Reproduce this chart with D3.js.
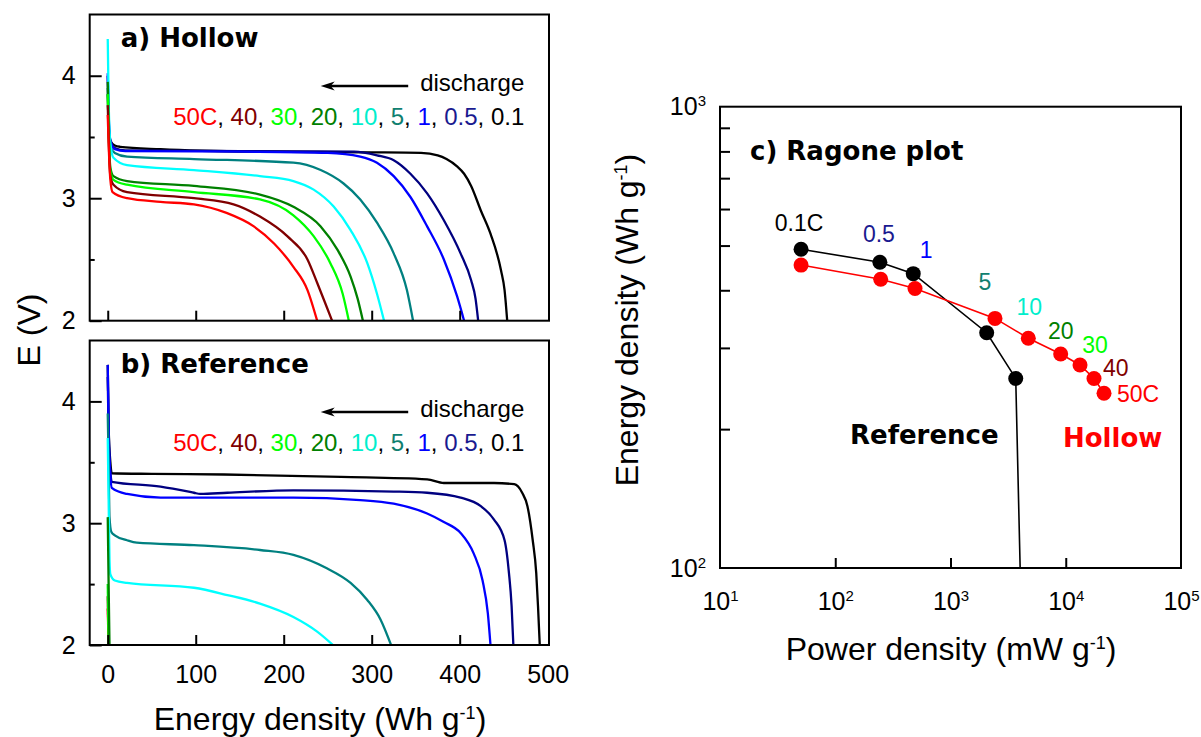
<!DOCTYPE html>
<html>
<head>
<meta charset="utf-8">
<script src="https://cdnjs.cloudflare.com/ajax/libs/d3/7.8.5/d3.min.js"></script>
<style>
  body { margin: 0; background: #ffffff; }
  text { font-family: "Liberation Sans", Arial, sans-serif; white-space: pre; }
  .bold { font-family: "DejaVu Sans", sans-serif; font-weight: bold; }
</style>
</head>
<body>
<div id="chart"></div>
<script>
////////////////////////////////////////////////////////////////////////////////
//////////////////////////////////////////////////////////////////////// Data
////////////////////////////////////////////////////////////////////////////////

// C-rates, in the order of the label row (fast -> slow)
const rateLabels = ["50C", "40", "30", "20", "10", "5", "1", "0.5", "0.1"];
const rateColors = ["#ff0000", "#800000", "#00ff00", "#008000", "#00ffff", "#008080", "#0000ff", "#000080", "#000000"];
const rateTextColors = ["#ff0000", "#800000", "#00ff00", "#008000", "#00eecc", "#108070", "#0000ff", "#1a1a90", "#000000"];

// a) Hollow discharge curves, [energy density (Wh/g), E (V)]
const hollow50 = [[0,3.68],[1,3.45],[3,3.15],[5.5,3.05],[22,3.00],[60,2.97],[98,2.95],[135,2.88],[166,2.77],[189,2.63],[211,2.44],[227,2.25],[238,2.0]];
const hollow40 = [[0,3.76],[1,3.5],[3,3.18],[6.5,3.11],[22,3.05],[98,3.00],[143,2.95],[173,2.85],[204,2.69],[227,2.50],[238,2.31],[249,2.11],[255,2.0]];
const hollow30 = [[0,3.85],[1,3.55],[3,3.22],[6.5,3.15],[22,3.11],[98,3.05],[173,2.99],[211,2.86],[234,2.69],[253,2.47],[267,2.22],[274,2.0]];
const hollow20 = [[0,3.95],[1,3.6],[3,3.25],[6.5,3.18],[22,3.14],[98,3.10],[173,3.03],[211,2.93],[242,2.77],[261,2.58],[276,2.36],[284,2.18],[290,2.0]];
const hollow10 = [[0,4.3],[1,3.8],[3,3.45],[6.5,3.33],[22,3.27],[98,3.23],[173,3.18],[211,3.14],[234,3.07],[257,2.93],[276,2.74],[295,2.47],[306,2.22],[314,2.0]];
const hollow5 = [[0,3.9],[1,3.6],[3,3.42],[8,3.37],[22,3.34],[98,3.32],[211,3.29],[242,3.23],[268,3.12],[287,2.99],[306,2.80],[325,2.55],[340,2.25],[347,2.0]];
const hollow1 = [[0,4.02],[1,3.7],[3,3.47],[8,3.40],[20,3.385],[150,3.38],[250,3.37],[287,3.34],[306,3.29],[325,3.18],[344,3.01],[363,2.77],[382,2.50],[397,2.20],[405,2.0]];
const hollow05 = [[0,4.0],[1,3.65],[3,3.47],[8,3.41],[20,3.39],[150,3.385],[280,3.38],[306,3.35],[325,3.31],[344,3.20],[363,3.04],[382,2.82],[401,2.55],[413,2.33],[418,2.18],[421,2.0]];
const hollow01 = [[0,3.85],[1,3.6],[3,3.47],[8,3.43],[14,3.42],[60,3.40],[173,3.38],[300,3.375],[356,3.37],[375,3.35],[385,3.32],[397,3.26],[405,3.2],[413,3.10],[424,2.90],[435,2.71],[447,2.41],[451,2.25],[454,2.0]];

// b) Reference discharge curves
const ref50 = [[0,2.3],[1,2.0]];
const ref40 = [[0,2.4],[1,2.0]];
const ref30 = [[0,2.5],[1,2.0]];
const ref20 = [[0,3.05],[1,2.5],[2,2.0]];
const ref10 = [[0,3.7],[1,3.2],[2,2.7],[3,2.58],[8,2.53],[22,2.51],[98,2.47],[136,2.41],[173,2.34],[211,2.23],[238,2.11],[256,2.0]];
const ref5 = [[0,3.9],[1,3.5],[2,3.05],[4,2.93],[8,2.90],[22,2.86],[33,2.84],[98,2.82],[173,2.78],[211,2.74],[249,2.63],[276,2.51],[295,2.37],[310,2.21],[322,2.0]];
const ref1 = [[0,4.3],[1,3.8],[3,3.4],[4.6,3.29],[22,3.24],[60,3.21],[211,3.21],[287,3.19],[325,3.16],[363,3.08],[382,3.01],[401,2.92],[416,2.75],[426,2.53],[432,2.26],[435,2.0]];
const ref05 = [[0,4.2],[1,3.7],[3,3.42],[4.6,3.34],[60,3.30],[98,3.25],[105,3.24],[136,3.25],[211,3.27],[325,3.26],[363,3.25],[401,3.21],[424,3.14],[439,3.03],[451,2.86],[456,2.59],[459,2.32],[461,2.0]];
const ref01 = [[0,4.3],[1,3.8],[3,3.5],[4.6,3.41],[50,3.405],[132,3.40],[265,3.38],[363,3.36],[382,3.33],[439,3.33],[462,3.32],[471,3.25],[477,3.14],[483,2.86],[487,2.59],[489,2.32],[491,2.0]];

const hollowCurves = [hollow50, hollow40, hollow30, hollow20, hollow10, hollow5, hollow1, hollow05, hollow01];
const refCurves = [ref50, ref40, ref30, ref20, ref10, ref5, ref1, ref05, ref01];

// axis ticks
const energyTicks = [0, 100, 200, 300, 400, 500];
const voltTicks = [2, 3, 4];
const voltMinorTicks = [2.5, 3.5];
const powerTicks = [10, 100, 1000, 10000, 100000];
const ragoneEnergyTicks = [100, 1000];
const ragoneMinorTicks = [200, 300, 400, 500, 600, 700, 800, 900];

// c) Ragone plot (mW/g, Wh/g)
const ragoneLabels = ["0.1C", "0.5", "1", "5", "10", "20", "30", "40", "50C"];
const ragoneLabelColors = ["#000000", "#1a1a90", "#0000ff", "#108070", "#00eecc", "#008000", "#00ff00", "#800000", "#ff0000"];
const hollowPower = [50.5, 248, 492, 2432, 4732, 9036, 13300, 17580, 21480];
const hollowEnergy = [453.6, 422.7, 403.6, 347.6, 314.8, 291, 275.5, 257.6, 239.3];
const refPower = [50.5, 244, 475, 2061, 3681, 4500];
const refEnergy = [491, 460, 434.6, 323.6, 257.6, 30];

////////////////////////////////////////////////////////////////////////////////
///////////////////////////////////////////////////////////////////// Drawing
////////////////////////////////////////////////////////////////////////////////

const svg = d3.select("#chart")
              .append("svg")
                .attr("width", 1201)
                .attr("height", 737);

// shared energy axis for a) and b)
const xEnergy = d3.scaleLinear().domain([-20.5, 501.5]).range([89.7, 549]);
const yHollow = d3.scaleLinear().domain([2, 4.5]).range([320.7, 14.5]);
const yRef = d3.scaleLinear().domain([2, 4.5]).range([645, 340.5]);

function styleAxis(g) {
  g.select(".domain").remove();
  g.selectAll(".tick line").attr("stroke", "#000").attr("stroke-width", 2);
  g.selectAll(".tick text").attr("fill", "#000").style("font-size", "25px")
   .style("font-family", "'Liberation Sans', Arial, sans-serif");
}

function drawVoltagePanel(id, yScale, curves, order, title, showEnergyLabels) {
  const x0 = xEnergy.range()[0], x1 = xEnergy.range()[1];
  const y0 = yScale.range()[0], y1 = yScale.range()[1];
  const panel = svg.append("g").attr("class", "panel-" + id);

  panel.append("clipPath").attr("id", "clip-" + id)
    .append("rect").attr("x", x0).attr("y", y1).attr("width", x1 - x0).attr("height", y0 - y1);

  const line = d3.line()
                 .x(d => xEnergy(d[0]))
                 .y(d => yScale(d[1]))
                 .curve(d3.curveMonotoneX);

  panel.append("g").attr("clip-path", `url(#clip-${id})`)
    .selectAll("path")
    .data(order)
    .join("path")
      .attr("fill", "none")
      .attr("stroke", i => rateColors[i])
      .attr("stroke-width", 2.3)
      .attr("stroke-linejoin", "round")
      .attr("d", i => line(curves[i]));

  // bottom ticks (inward)
  panel.append("g")
    .attr("transform", `translate(0,${y0})`)
    .call(d3.axisBottom(xEnergy).tickValues(energyTicks.slice(0, 5)).tickSize(-10).tickFormat(""))
    .call(styleAxis);

  if (showEnergyLabels) {
    panel.append("g")
      .attr("transform", `translate(0,${y0})`)
      .call(d3.axisBottom(xEnergy).tickValues(energyTicks).tickSize(0).tickPadding(20))
      .call(styleAxis);
  }

  // left ticks
  panel.append("g")
    .attr("transform", `translate(${x0},0)`)
    .call(d3.axisLeft(yScale).tickValues(voltTicks).tickSize(-12).tickPadding(14).tickFormat(d3.format("d")))
    .call(styleAxis);
  panel.append("g")
    .attr("transform", `translate(${x0},0)`)
    .call(d3.axisLeft(yScale).tickValues(voltMinorTicks).tickSize(-5).tickFormat(""))
    .call(styleAxis);

  // frame
  panel.append("rect")
    .attr("x", x0).attr("y", y1).attr("width", x1 - x0).attr("height", y0 - y1)
    .attr("fill", "none").attr("stroke", "#000").attr("stroke-width", 2);

  // panel title
  panel.append("text")
    .attr("class", "bold")
    .attr("x", x0 + 31).attr("y", y1 + 32)
    .style("font-size", "26px")
    .text(title);

  // discharge arrow
  const ay = y1 + 71.5;
  panel.append("line")
    .attr("x1", x0 + 318.5).attr("x2", x0 + 240)
    .attr("y1", ay).attr("y2", ay)
    .attr("stroke", "#000").attr("stroke-width", 2.5);
  panel.append("path")
    .attr("d", `M${x0 + 231},${ay} L${x0 + 245},${ay - 4.5} L${x0 + 241},${ay} L${x0 + 245},${ay + 4.5} Z`)
    .attr("fill", "#000");
  panel.append("text")
    .attr("x", x0 + 330.5).attr("y", ay + 5)
    .style("font-size", "24px")
    .text("discharge");

  // rate label row
  const row = panel.append("text")
    .attr("x", x0 + 83.5).attr("y", y1 + 110.5)
    .style("font-size", "24px");
  rateLabels.forEach((r, i) => {
    row.append("tspan").attr("fill", rateTextColors[i]).text(r);
    if (i < rateLabels.length - 1) row.append("tspan").attr("fill", "#000").text(", ");
  });
}

drawVoltagePanel("a", yHollow, hollowCurves, [8, 7, 6, 5, 4, 3, 2, 1, 0], "a) Hollow", false);
drawVoltagePanel("b", yRef, refCurves, [0, 1, 2, 8, 7, 6, 5, 4, 3], "b) Reference", true);

// shared labels of a) and b)
svg.append("text")
   .attr("transform", "translate(40,330) rotate(-90)")
   .style("text-anchor", "middle")
   .style("font-size", "32px")
   .text("E (V)");

const energyTitle = svg.append("text")
   .attr("x", 320).attr("y", 730)
   .style("text-anchor", "middle")
   .style("font-size", "32px");
energyTitle.append("tspan").text("Energy density (Wh g");
energyTitle.append("tspan").attr("dy", -11).style("font-size", "18px").text("-1");
energyTitle.append("tspan").attr("dy", 11).text(")");

////////////////////////////////////////////////////////////////////////////////
//////////////////////////////////////////////////////////////// Ragone plot
////////////////////////////////////////////////////////////////////////////////

const xPower = d3.scaleLog().domain([10, 100000]).range([720, 1181]);
const yEnergy = d3.scaleLog().domain([100, 1000]).range([568, 106.7]);
const ragone = svg.append("g").attr("class", "panel-c");
const cx0 = 720, cx1 = 1181, cy0 = 568, cy1 = 106.7;

ragone.append("clipPath").attr("id", "clip-c")
  .append("rect").attr("x", cx0).attr("y", cy1).attr("width", cx1 - cx0).attr("height", cy0 - cy1);

function powerLabel(sel) {
  sel.selectAll(".tick text").each(function(d) {
    const t = d3.select(this);
    t.text("");
    t.append("tspan").text("10");
    t.append("tspan").attr("dy", -9).style("font-size", "15px").text(Math.round(Math.log10(d)));
  });
}

ragone.append("g")
  .attr("transform", `translate(0,${cy0})`)
  .call(d3.axisBottom(xPower).tickValues(powerTicks.slice(1, 4)).tickSize(-10).tickFormat(""))
  .call(styleAxis);
ragone.append("g")
  .attr("transform", `translate(0,${cy0})`)
  .call(d3.axisBottom(xPower).tickValues(powerTicks).tickSize(0).tickPadding(24))
  .call(styleAxis)
  .call(powerLabel);

ragone.append("g")
  .attr("transform", `translate(${cx0},0)`)
  .call(d3.axisLeft(yEnergy).tickValues(ragoneMinorTicks).tickSize(-10).tickFormat(""))
  .call(styleAxis);
ragone.append("g")
  .attr("transform", `translate(${cx0},0)`)
  .call(d3.axisLeft(yEnergy).tickValues(ragoneEnergyTicks).tickSize(0).tickPadding(14))
  .call(styleAxis)
  .call(powerLabel);

const ragoneLine = d3.line()
                     .x(d => xPower(d[0]))
                     .y(d => yEnergy(d[1]));

const series = [
  { power: refPower, energy: refEnergy, color: "#000000" },
  { power: hollowPower, energy: hollowEnergy, color: "#ff0000" }
];

const plot = ragone.append("g").attr("clip-path", "url(#clip-c)");
series.forEach(s => {
  const pts = s.power.map((p, i) => [p, s.energy[i]]);
  plot.append("path")
    .attr("d", ragoneLine(pts))
    .attr("fill", "none")
    .attr("stroke", s.color)
    .attr("stroke-width", 1.6);
  plot.selectAll(null)
    .data(pts)
    .join("circle")
      .attr("cx", d => xPower(d[0]))
      .attr("cy", d => yEnergy(d[1]))
      .attr("r", 7.5)
      .attr("fill", s.color);
});

// rate labels next to points: [series, dx, dy, anchor]
const labelPlacement = [
  ["ref", -2, -18, "middle"], ["ref", -1, -20, "middle"], ["ref", 13, -16, "middle"],
  ["hollow", -10, -28, "middle"], ["hollow", 1, -23, "middle"], ["hollow", 0, -15, "middle"],
  ["hollow", 15, -12, "middle"], ["hollow", 9, -2, "start"], ["hollow", 13, 9, "start"]
];
ragoneLabels.forEach((lab, i) => {
  const p = labelPlacement[i];
  const px = p[0] === "ref" ? refPower[i] : hollowPower[i];
  const py = p[0] === "ref" ? refEnergy[i] : hollowEnergy[i];
  ragone.append("text")
    .attr("x", xPower(px) + p[1])
    .attr("y", yEnergy(py) + p[2])
    .attr("fill", ragoneLabelColors[i])
    .style("text-anchor", p[3])
    .style("font-size", "23px")
    .text(lab);
});

ragone.append("rect")
  .attr("x", cx0).attr("y", cy1).attr("width", cx1 - cx0).attr("height", cy0 - cy1)
  .attr("fill", "none").attr("stroke", "#000").attr("stroke-width", 2);

ragone.append("text")
  .attr("class", "bold")
  .attr("x", 750).attr("y", 160)
  .style("font-size", "26px")
  .text("c) Ragone plot");

ragone.append("text")
  .attr("class", "bold")
  .attr("x", 850).attr("y", 444)
  .style("font-size", "26px")
  .text("Reference");

ragone.append("text")
  .attr("class", "bold")
  .attr("x", 1063).attr("y", 447)
  .attr("fill", "#ff0000")
  .style("font-size", "26px")
  .text("Hollow");

const powerTitle = ragone.append("text")
  .attr("x", 951).attr("y", 660)
  .style("text-anchor", "middle")
  .style("font-size", "32px");
powerTitle.append("tspan").text("Power density (mW g");
powerTitle.append("tspan").attr("dy", -11).style("font-size", "18px").text("-1");
powerTitle.append("tspan").attr("dy", 11).text(")");

const ragoneYTitle = ragone.append("text")
  .attr("transform", "translate(638,320) rotate(-90)")
  .style("text-anchor", "middle")
  .style("font-size", "32px");
ragoneYTitle.append("tspan").text("Energy density (Wh g");
ragoneYTitle.append("tspan").attr("dy", -11).style("font-size", "18px").text("-1");
ragoneYTitle.append("tspan").attr("dy", 11).text(")");
</script>
</body>
</html>
